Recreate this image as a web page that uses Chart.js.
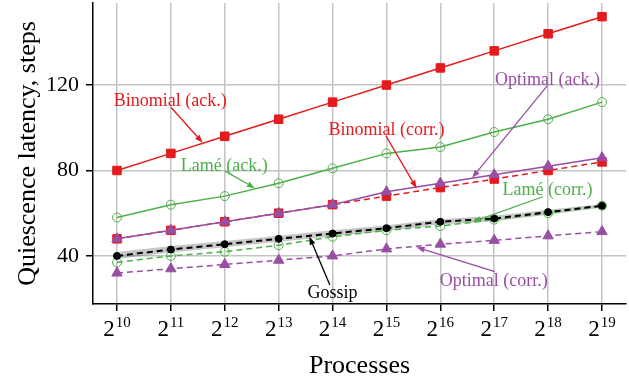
<!DOCTYPE html>
<html>
<head>
<meta charset="utf-8">
<script src="https://cdn.jsdelivr.net/npm/chart.js@4/dist/chart.umd.min.js"></script>
<style>
  body { margin: 0; background: #fff; }
  canvas { display: block; }
</style>
</head>
<body>
<canvas id="chart" width="629" height="379"></canvas>
<script>
/* =======================
   DATA
======================= */
const exps = [10, 11, 12, 13, 14, 15, 16, 17, 18, 19];   // processes = 2^exp
const yTicks = [40, 80, 120];

const binomialAck  = [80, 88, 96, 104, 112, 120, 128, 136, 144, 152];
const lameAck      = [58, 64, 68, 74, 81, 88, 91, 98, 104, 112];
const optimalAck   = [48, 52, 56, 60, 64, 70, 74, 78, 82, 86];
const binomialCorr = [48, 52, 56, 60, 64, 68, 72, 76, 80, 84];
const gossip       = [40, 43, 45.5, 48, 50.5, 53, 56, 57.5, 60.5, 63.5];
const gossipLow    = [38.6, 41.6, 44.1, 46.6, 49.1, 51.7, 54.7, 56.2, 59.3, 62.6];
const gossipHigh   = [41.8, 44.6, 47, 49.5, 52, 54.4, 57.2, 58.8, 61.6, 64.3];
const lameCorr     = [37, 40, 42, 45, 49, 52, 54, 57, 60, 63.5];
const optimalCorr  = [32, 34, 36, 38, 40, 43.3, 45.5, 47.3, 49.4, 51.4];

const RED = '#e41a1c', GREEN = '#4daf4a', PURPLE = '#984ea3';
const FONT = '"Liberation Serif", "Times New Roman", serif';

// label text, colour, text centre and arrow (all in data units)
const notes = [
  {text:'Binomial (ack.)',  color:RED,    at:[10.99,112.2], from:[11.0,109.6], to:[11.59,93.0]},
  {text:'Lamé (ack.)',      color:GREEN,  at:[11.99,82.2],  from:[12.0,79.8],  to:[12.56,71.7]},
  {text:'Binomial (corr.)', color:RED,    at:[15.0,98.8],   from:[14.99,96.2], to:[15.56,71.7]},
  {text:'Optimal (ack.)',   color:PURPLE, at:[17.99,122.3], from:[17.99,119.8],to:[16.59,76.6]},
  {text:'Lamé (corr.)',     color:GREEN,  at:[17.99,70.9],  from:[17.9,67.7],  to:[16.6,56.0]},
  {text:'Gossip',           color:'#000', at:[14.0,22.7],   from:[13.95,26.4], to:[13.57,49.0]},
  {text:'Optimal (corr.)',  color:PURPLE, at:[16.99,28.0],  from:[17.01,32.7], to:[15.56,44.1]}
];

const pts = arr => arr.map((v, i) => ({x: exps[i], y: v}));

function series(label, data, color, style, dashed, fillPoint, radius) {
  return {
    label, data: pts(data),
    borderColor: color, borderWidth: 1.5,
    borderDash: dashed ? [6, 4] : [],
    pointStyle: style, pointRadius: radius, pointHoverRadius: radius,
    pointBackgroundColor: fillPoint ? color : 'rgba(0,0,0,0)',
    pointBorderColor: color, pointBorderWidth: 1,
    fill: false, tension: 0
  };
}

// first dataset is drawn on top
const datasets = [
  series('Gossip', gossip, '#000', 'circle', true, true, 3.5),
  series('Optimal (ack.)', optimalAck, PURPLE, 'triangle', false, true, 6),
  series('Binomial (corr.)', binomialCorr, RED, 'rect', true, true, 6),
  series('Binomial (ack.)', binomialAck, RED, 'rect', false, true, 6),
  series('Lamé (ack.)', lameAck, GREEN, 'circle', false, false, 4.5),
  series('Lamé (corr.)', lameCorr, GREEN, 'circle', true, false, 4.5),
  series('Optimal (corr.)', optimalCorr, PURPLE, 'triangle', true, true, 6),
  {label:'band low', data: pts(gossipLow), borderWidth:0, pointRadius:0, fill:false, backgroundColor:'rgba(0,0,0,0)'},
  {label:'band high', data: pts(gossipHigh), borderWidth:0, pointRadius:0, fill:'-1', backgroundColor:'rgba(0,0,0,0.22)'}
];
datasets[0].borderWidth = 2;

/* =======================
   DRAWING EXTRAS
======================= */
function arrow(ctx, x1, y1, x2, y2, color) {
  const a = Math.atan2(y2 - y1, x2 - x1);
  const len = 8, half = 3;
  const bx = x2 - len * Math.cos(a), by = y2 - len * Math.sin(a);
  ctx.strokeStyle = color; ctx.fillStyle = color; ctx.lineWidth = 1.3;
  ctx.beginPath(); ctx.moveTo(x1, y1); ctx.lineTo(bx, by); ctx.stroke();
  ctx.beginPath();
  ctx.moveTo(x2, y2);
  ctx.lineTo(bx + half * Math.sin(a), by - half * Math.cos(a));
  ctx.lineTo(bx - half * Math.sin(a), by + half * Math.cos(a));
  ctx.closePath(); ctx.fill();
}

const extras = {
  id: 'extras',
  afterDatasetsDraw(chart) {
    const {ctx, scales: {x, y}} = chart;
    ctx.save();
    notes.forEach(n => {
      arrow(ctx, x.getPixelForValue(n.from[0]), y.getPixelForValue(n.from[1]),
                 x.getPixelForValue(n.to[0]), y.getPixelForValue(n.to[1]), n.color);
    });
    ctx.font = '18px ' + FONT;
    ctx.textAlign = 'center'; ctx.textBaseline = 'middle';
    notes.forEach(n => {
      ctx.fillStyle = n.color;
      ctx.fillText(n.text, x.getPixelForValue(n.at[0]), y.getPixelForValue(n.at[1]));
    });
    ctx.restore();
  },
  afterDraw(chart) {
    const {ctx, scales: {x}, chartArea} = chart;
    ctx.save();
    ctx.fillStyle = '#000';
    ctx.textBaseline = 'alphabetic'; ctx.textAlign = 'left';
    exps.forEach(e => {
      const px = x.getPixelForValue(e);
      ctx.font = '23px ' + FONT;
      const w2 = ctx.measureText('2').width;
      ctx.font = '15px ' + FONT;
      const we = ctx.measureText(String(e)).width;
      const left = px - (w2 + we + 1) / 2;
      ctx.font = '23px ' + FONT;
      ctx.fillText('2', left, 336);
      ctx.font = '15px ' + FONT;
      ctx.fillText(String(e), left + w2 + 1, 327);
    });
    ctx.font = '26px ' + FONT;
    ctx.textAlign = 'center';
    ctx.fillText('Processes', (chartArea.left + chartArea.right) / 2, 373);
    ctx.translate(28, (chartArea.top + chartArea.bottom) / 2);
    ctx.rotate(-Math.PI / 2);
    ctx.textBaseline = 'middle';
    ctx.fillText('Quiescence latency, steps', 0, 0);
    ctx.restore();
  }
};

/* =======================
   CHART
======================= */
new Chart(document.getElementById('chart'), {
  type: 'line',
  data: { datasets },
  options: {
    responsive: false,
    animation: false,
    layout: { autoPadding: false, padding: { top: 3, right: 3, left: 0, bottom: 0 } },
    plugins: { legend: { display: false }, tooltip: { enabled: false } },
    scales: {
      x: {
        type: 'linear', min: 9.555, max: 19.445,
        afterBuildTicks: s => { s.ticks = exps.map(v => ({value: v})); },
        afterFit: s => { s.height = 75; s.paddingLeft = 0; s.paddingRight = 0; },
        ticks: { callback: () => '' },
        grid: { color: '#c4c4c4', lineWidth: 1.5, tickColor: '#000', tickLength: 7, tickWidth: 1.5 },
        border: { color: '#000', width: 1.5 }
      },
      y: {
        min: 17.5, max: 158.4,
        afterBuildTicks: s => { s.ticks = yTicks.map(v => ({value: v})); },
        afterFit: s => { s.width = 93; s.paddingTop = 0; s.paddingBottom = 0; },
        ticks: { color: '#000', font: { family: FONT, size: 22 }, padding: 7 },
        grid: { color: '#c4c4c4', lineWidth: 1.5, tickColor: '#000', tickLength: 7, tickWidth: 1.5 },
        border: { color: '#000', width: 1.5 }
      }
    }
  },
  plugins: [extras]
});
</script>
</body>
</html>
